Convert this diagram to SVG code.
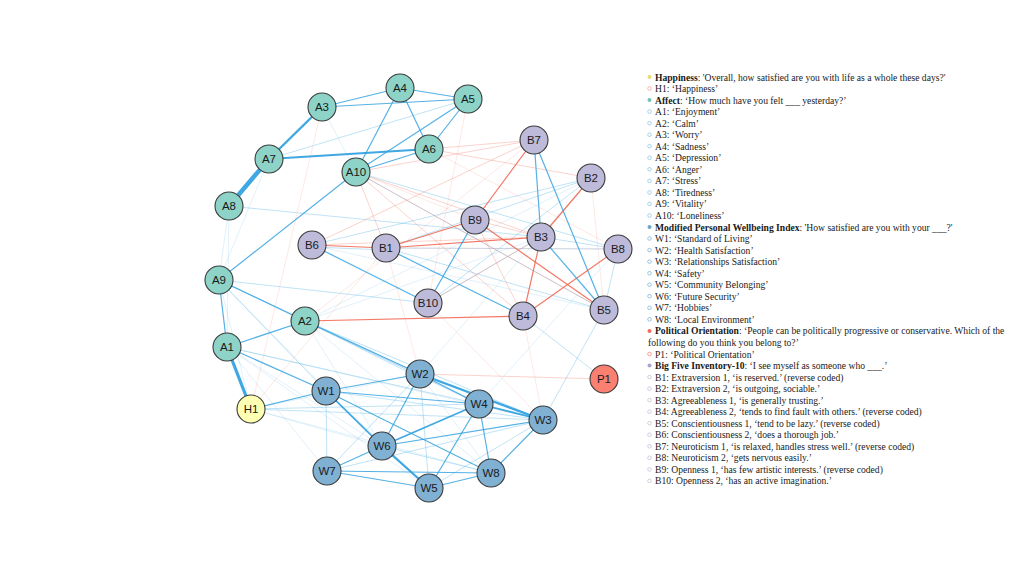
<svg xmlns="http://www.w3.org/2000/svg" width="1024" height="576" viewBox="0 0 1024 576">
<style>
.bg{fill:#ffffff}
line{stroke-linecap:round}
.ps{stroke:#2a9ddf;stroke-opacity:0.9}
.pm{stroke:#2a9ddf;stroke-width:1.2;stroke-opacity:0.8}
.pl{stroke:#4aaee6;stroke-width:1;stroke-opacity:0.35}
.pf{stroke:#6bbbe8;stroke-width:1;stroke-opacity:0.2}
.nm{stroke:#f2604a;stroke-width:1.2;stroke-opacity:0.85}
.nl{stroke:#f4826f;stroke-width:1;stroke-opacity:0.35}
.nf{stroke:#f7a393;stroke-width:1;stroke-opacity:0.25}
.node circle{stroke:#3a3a3a;stroke-width:1.1}
.a circle{fill:#8dd3c7}
.b circle{fill:#bebada}
.w circle{fill:#80b1d3}
.h circle{fill:#ffffb3}
.p circle{fill:#fb8072}
.node text{font-family:"Liberation Sans",Arial,sans-serif;font-size:11.5px;fill:#1a1a1a;text-anchor:middle;dominant-baseline:central}
.lg text{font-family:"Liberation Serif","Times New Roman",serif;font-size:9.6px;fill:#1a1a1a}
.lg .cat{font-weight:bold}
.hb{fill:none;stroke-width:0.8}
</style>
<rect class="bg" x="0" y="0" width="1024" height="576"/>
<g id="connectors">
<line class="pf" x1="269" y1="159" x2="219" y2="280"/>
<line class="pf" x1="229" y1="206" x2="219" y2="280"/>
<line class="pf" x1="229" y1="206" x2="227" y2="347"/>
<line class="pl" x1="229" y1="206" x2="541" y2="237"/>
<line class="pl" x1="269" y1="159" x2="468" y2="99"/>
<line class="pf" x1="322" y1="107" x2="356" y2="172"/>
<line class="pl" x1="219" y1="280" x2="428" y2="303"/>
<line class="pl" x1="219" y1="280" x2="326" y2="391"/>
<line class="pl" x1="219" y1="280" x2="420" y2="374"/>
<line class="pf" x1="219" y1="280" x2="251" y2="409"/>
<line class="pf" x1="219" y1="280" x2="382" y2="446"/>
<line class="pf" x1="219" y1="280" x2="479" y2="404"/>
<line class="pl" x1="227" y1="347" x2="479" y2="404"/>
<line class="pf" x1="227" y1="347" x2="543" y2="420"/>
<line class="pf" x1="227" y1="347" x2="382" y2="446"/>
<line class="pf" x1="227" y1="347" x2="429" y2="488"/>
<line class="pf" x1="227" y1="347" x2="327" y2="471"/>
<line class="pl" x1="305" y1="321" x2="479" y2="404"/>
<line class="pl" x1="305" y1="321" x2="543" y2="420"/>
<line class="pf" x1="305" y1="321" x2="382" y2="446"/>
<line class="pf" x1="305" y1="321" x2="491" y2="473"/>
<line class="pf" x1="305" y1="321" x2="541" y2="237"/>
<line class="pl" x1="251" y1="409" x2="479" y2="404"/>
<line class="pl" x1="251" y1="409" x2="543" y2="420"/>
<line class="pf" x1="251" y1="409" x2="382" y2="446"/>
<line class="pf" x1="251" y1="409" x2="491" y2="473"/>
<line class="pf" x1="251" y1="409" x2="420" y2="374"/>
<line class="pl" x1="326" y1="391" x2="543" y2="420"/>
<line class="pl" x1="326" y1="391" x2="327" y2="471"/>
<line class="pl" x1="326" y1="391" x2="429" y2="488"/>
<line class="pl" x1="420" y1="374" x2="429" y2="488"/>
<line class="pl" x1="420" y1="374" x2="327" y2="471"/>
<line class="pf" x1="420" y1="374" x2="491" y2="473"/>
<line class="pl" x1="543" y1="420" x2="327" y2="471"/>
<line class="pl" x1="543" y1="420" x2="429" y2="488"/>
<line class="pl" x1="382" y1="446" x2="491" y2="473"/>
<line class="pl" x1="543" y1="420" x2="604" y2="310"/>
<line class="pl" x1="604" y1="379" x2="523" y2="316"/>
<line class="pl" x1="591" y1="178" x2="428" y2="303"/>
<line class="pl" x1="591" y1="178" x2="386" y2="248"/>
<line class="pl" x1="591" y1="178" x2="312" y2="245"/>
<line class="pl" x1="618" y1="249" x2="386" y2="248"/>
<line class="pl" x1="618" y1="249" x2="541" y2="237"/>
<line class="pl" x1="618" y1="249" x2="604" y2="310"/>
<line class="pl" x1="428" y1="303" x2="541" y2="237"/>
<line class="pl" x1="356" y1="172" x2="618" y2="249"/>
<line class="pl" x1="356" y1="172" x2="604" y2="310"/>
<line class="pf" x1="420" y1="374" x2="591" y2="178"/>
<line class="pf" x1="479" y1="404" x2="618" y2="249"/>
<line class="pf" x1="312" y1="245" x2="604" y2="310"/>
<line class="pf" x1="305" y1="321" x2="591" y2="178"/>
<line class="pl" x1="386" y1="248" x2="604" y2="310"/>
<line class="nl" x1="534" y1="140" x2="312" y2="245"/>
<line class="nl" x1="429" y1="149" x2="534" y2="140"/>
<line class="nl" x1="429" y1="149" x2="591" y2="178"/>
<line class="nl" x1="356" y1="172" x2="534" y2="140"/>
<line class="nl" x1="356" y1="172" x2="541" y2="237"/>
<line class="nl" x1="356" y1="172" x2="604" y2="310"/>
<line class="nl" x1="356" y1="172" x2="386" y2="248"/>
<line class="nl" x1="356" y1="172" x2="523" y2="316"/>
<line class="nf" x1="356" y1="172" x2="475" y2="220"/>
<line class="nf" x1="429" y1="149" x2="618" y2="249"/>
<line class="nf" x1="468" y1="99" x2="428" y2="303"/>
<line class="nl" x1="420" y1="374" x2="604" y2="379"/>
<line class="nf" x1="322" y1="107" x2="251" y2="409"/>
<line class="nf" x1="251" y1="409" x2="386" y2="248"/>
<line class="nf" x1="543" y1="420" x2="523" y2="316"/>
<line class="nf" x1="420" y1="374" x2="386" y2="248"/>
<line class="nl" x1="475" y1="220" x2="523" y2="316"/>
<line class="nf" x1="386" y1="248" x2="618" y2="249"/>
<line class="nl" x1="312" y1="245" x2="541" y2="237"/>
<line class="nf" x1="591" y1="178" x2="604" y2="310"/>
<line class="nf" x1="428" y1="303" x2="543" y2="420"/>
<line class="nf" x1="534" y1="140" x2="305" y2="321"/>
<line class="nm" x1="305" y1="321" x2="523" y2="316"/>
<line class="nm" x1="541" y1="237" x2="523" y2="316"/>
<line class="nm" x1="541" y1="237" x2="591" y2="178"/>
<line class="nm" x1="475" y1="220" x2="386" y2="248"/>
<line class="nm" x1="475" y1="220" x2="604" y2="310"/>
<line class="nm" x1="618" y1="249" x2="523" y2="316"/>
<line class="nm" x1="541" y1="237" x2="386" y2="248"/>
<line class="nm" x1="534" y1="140" x2="475" y2="220"/>
<line class="nm" x1="312" y1="245" x2="386" y2="248"/>
<line class="nl" x1="428" y1="303" x2="541" y2="237"/>
<line class="nl" x1="475" y1="220" x2="541" y2="237"/>
<line class="pm" x1="322" y1="107" x2="400" y2="88"/>
<line class="pm" x1="322" y1="107" x2="468" y2="99"/>
<line class="pm" x1="400" y1="88" x2="468" y2="99"/>
<line class="pm" x1="400" y1="88" x2="429" y2="149"/>
<line class="pm" x1="400" y1="88" x2="356" y2="172"/>
<line class="pm" x1="468" y1="99" x2="429" y2="149"/>
<line class="pm" x1="468" y1="99" x2="356" y2="172"/>
<line class="pm" x1="429" y1="149" x2="356" y2="172"/>
<line class="pm" x1="356" y1="172" x2="219" y2="280"/>
<line class="pm" x1="227" y1="347" x2="305" y2="321"/>
<line class="pm" x1="227" y1="347" x2="326" y2="391"/>
<line class="pm" x1="219" y1="280" x2="305" y2="321"/>
<line class="pm" x1="219" y1="280" x2="227" y2="347"/>
<line class="pm" x1="251" y1="409" x2="326" y2="391"/>
<line class="pm" x1="326" y1="391" x2="420" y2="374"/>
<line class="pm" x1="326" y1="391" x2="479" y2="404"/>
<line class="pm" x1="326" y1="391" x2="491" y2="473"/>
<line class="pm" x1="420" y1="374" x2="479" y2="404"/>
<line class="pm" x1="479" y1="404" x2="429" y2="488"/>
<line class="pm" x1="479" y1="404" x2="491" y2="473"/>
<line class="pm" x1="543" y1="420" x2="491" y2="473"/>
<line class="pm" x1="382" y1="446" x2="327" y2="471"/>
<line class="pm" x1="327" y1="471" x2="429" y2="488"/>
<line class="pm" x1="327" y1="471" x2="491" y2="473"/>
<line class="pm" x1="429" y1="488" x2="491" y2="473"/>
<line class="pm" x1="420" y1="374" x2="382" y2="446"/>
<line class="pm" x1="382" y1="446" x2="543" y2="420"/>
<line class="pm" x1="305" y1="321" x2="420" y2="374"/>
<line class="pl" x1="305" y1="321" x2="420" y2="378"/>
<line class="pm" x1="534" y1="140" x2="541" y2="237"/>
<line class="pm" x1="534" y1="140" x2="604" y2="310"/>
<line class="pm" x1="541" y1="237" x2="604" y2="310"/>
<line class="pm" x1="475" y1="220" x2="428" y2="303"/>
<line class="pm" x1="312" y1="245" x2="428" y2="303"/>
<line class="pm" x1="386" y1="248" x2="523" y2="316"/>
<line class="pl" x1="312" y1="247" x2="386" y2="250"/>
<line class="ps" x1="269" y1="159" x2="229" y2="206" stroke-width="4.5"/>
<line class="ps" x1="227" y1="347" x2="251" y2="409" stroke-width="3.2"/>
<line class="ps" x1="269" y1="159" x2="322" y2="107" stroke-width="2.4"/>
<line class="ps" x1="420" y1="374" x2="543" y2="420" stroke-width="2.4"/>
<line class="ps" x1="479" y1="404" x2="543" y2="420" stroke-width="1.8"/>
<line class="ps" x1="382" y1="446" x2="429" y2="488" stroke-width="2.2"/>
<line class="ps" x1="269" y1="159" x2="429" y2="149" stroke-width="2"/>
<line class="ps" x1="326" y1="391" x2="382" y2="446" stroke-width="1.7"/>
<line class="ps" x1="479" y1="404" x2="382" y2="446" stroke-width="1.6"/>
</g>
<g id="nodes">
<g id="node-A1" class="node a"><circle cx="227" cy="347" r="14"/><text x="227" y="347">A1</text></g>
<g id="node-A2" class="node a"><circle cx="305" cy="321" r="14"/><text x="305" y="321">A2</text></g>
<g id="node-A3" class="node a"><circle cx="322" cy="107" r="14"/><text x="322" y="107">A3</text></g>
<g id="node-A4" class="node a"><circle cx="400" cy="88" r="14"/><text x="400" y="88">A4</text></g>
<g id="node-A5" class="node a"><circle cx="468" cy="99" r="14"/><text x="468" y="99">A5</text></g>
<g id="node-A6" class="node a"><circle cx="429" cy="149" r="14"/><text x="429" y="149">A6</text></g>
<g id="node-A7" class="node a"><circle cx="269" cy="159" r="14"/><text x="269" y="159">A7</text></g>
<g id="node-A8" class="node a"><circle cx="229" cy="206" r="14"/><text x="229" y="206">A8</text></g>
<g id="node-A9" class="node a"><circle cx="219" cy="280" r="14"/><text x="219" y="280">A9</text></g>
<g id="node-A10" class="node a"><circle cx="356" cy="172" r="14"/><text x="356" y="172">A10</text></g>
<g id="node-H1" class="node h"><circle cx="251" cy="409" r="14"/><text x="251" y="409">H1</text></g>
<g id="node-W1" class="node w"><circle cx="326" cy="391" r="14"/><text x="326" y="391">W1</text></g>
<g id="node-W2" class="node w"><circle cx="420" cy="374" r="14"/><text x="420" y="374">W2</text></g>
<g id="node-W3" class="node w"><circle cx="543" cy="420" r="14"/><text x="543" y="420">W3</text></g>
<g id="node-W4" class="node w"><circle cx="479" cy="404" r="14"/><text x="479" y="404">W4</text></g>
<g id="node-W5" class="node w"><circle cx="429" cy="488" r="14"/><text x="429" y="488">W5</text></g>
<g id="node-W6" class="node w"><circle cx="382" cy="446" r="14"/><text x="382" y="446">W6</text></g>
<g id="node-W7" class="node w"><circle cx="327" cy="471" r="14"/><text x="327" y="471">W7</text></g>
<g id="node-W8" class="node w"><circle cx="491" cy="473" r="14"/><text x="491" y="473">W8</text></g>
<g id="node-P1" class="node p"><circle cx="604" cy="379" r="14"/><text x="604" y="379">P1</text></g>
<g id="node-B1" class="node b"><circle cx="386" cy="248" r="14"/><text x="386" y="248">B1</text></g>
<g id="node-B2" class="node b"><circle cx="591" cy="178" r="14"/><text x="591" y="178">B2</text></g>
<g id="node-B3" class="node b"><circle cx="541" cy="237" r="14"/><text x="541" y="237">B3</text></g>
<g id="node-B4" class="node b"><circle cx="523" cy="316" r="14"/><text x="523" y="316">B4</text></g>
<g id="node-B5" class="node b"><circle cx="604" cy="310" r="14"/><text x="604" y="310">B5</text></g>
<g id="node-B6" class="node b"><circle cx="312" cy="245" r="14"/><text x="312" y="245">B6</text></g>
<g id="node-B7" class="node b"><circle cx="534" cy="140" r="14"/><text x="534" y="140">B7</text></g>
<g id="node-B8" class="node b"><circle cx="618" cy="249" r="14"/><text x="618" y="249">B8</text></g>
<g id="node-B9" class="node b"><circle cx="475" cy="220" r="14"/><text x="475" y="220">B9</text></g>
<g id="node-B10" class="node b"><circle cx="428" cy="303" r="14"/><text x="428" y="303">B10</text></g>
</g>
<g id="legend" class="lg">
<circle cx="649.5" cy="77" r="2" fill="#eadb72"/>
<text x="655" y="80.5"><tspan class="cat">Happiness</tspan>: 'Overall, how satisfied are you with life as a whole these days?'</text>
<circle class="hb" cx="649.5" cy="88.5" r="1.8" stroke="#f4a49a"/>
<text x="655" y="92">H1: ‘Happiness’</text>
<circle cx="649.5" cy="100.1" r="2" fill="#6fc4b6"/>
<text x="655" y="103.6"><tspan class="cat">Affect</tspan>: ‘How much have you felt ___ yesterday?’</text>
<g stroke="#8fc9e6">
<circle class="hb" cx="649.5" cy="111.6" r="1.8"/>
<circle class="hb" cx="649.5" cy="123.2" r="1.8"/>
<circle class="hb" cx="649.5" cy="134.7" r="1.8"/>
<circle class="hb" cx="649.5" cy="146.2" r="1.8"/>
<circle class="hb" cx="649.5" cy="157.8" r="1.8"/>
<circle class="hb" cx="649.5" cy="169.3" r="1.8"/>
<circle class="hb" cx="649.5" cy="180.9" r="1.8"/>
<circle class="hb" cx="649.5" cy="192.4" r="1.8"/>
<circle class="hb" cx="649.5" cy="203.9" r="1.8"/>
<circle class="hb" cx="649.5" cy="215.5" r="1.8"/>
</g>
<text x="655" y="115.1">A1: ‘Enjoyment’</text>
<text x="655" y="126.7">A2: ‘Calm’</text>
<text x="655" y="138.2">A3: ‘Worry’</text>
<text x="655" y="149.7">A4: ‘Sadness’</text>
<text x="655" y="161.3">A5: ‘Depression’</text>
<text x="655" y="172.8">A6: ‘Anger’</text>
<text x="655" y="184.4">A7: ‘Stress’</text>
<text x="655" y="195.9">A8: ‘Tiredness’</text>
<text x="655" y="207.4">A9: ‘Vitality’</text>
<text x="655" y="219">A10: ‘Loneliness’</text>
<circle cx="649.5" cy="227" r="2" fill="#6fa6cc"/>
<text x="655" y="230.5"><tspan class="cat">Modified Personal Wellbeing Index</tspan>: 'How satisfied are you with your ___?'</text>
<g stroke="#7fb6dc">
<circle class="hb" cx="649.5" cy="238.5" r="1.8"/>
<circle class="hb" cx="649.5" cy="250.1" r="1.8"/>
<circle class="hb" cx="649.5" cy="261.6" r="1.8"/>
<circle class="hb" cx="649.5" cy="273.2" r="1.8"/>
<circle class="hb" cx="649.5" cy="284.7" r="1.8"/>
<circle class="hb" cx="649.5" cy="296.2" r="1.8"/>
<circle class="hb" cx="649.5" cy="307.8" r="1.8"/>
<circle class="hb" cx="649.5" cy="319.3" r="1.8"/>
</g>
<text x="655" y="242">W1: ‘Standard of Living’</text>
<text x="655" y="253.6">W2: ‘Health Satisfaction’</text>
<text x="655" y="265.1">W3: ‘Relationships Satisfaction’</text>
<text x="655" y="276.7">W4: ‘Safety’</text>
<text x="655" y="288.2">W5: ‘Community Belonging’</text>
<text x="655" y="299.7">W6: ‘Future Security’</text>
<text x="655" y="311.3">W7: ‘Hobbies’</text>
<text x="655" y="322.8">W8: ‘Local Environment’</text>
<circle cx="649.5" cy="330.9" r="2" fill="#f26b5c"/>
<text x="655" y="334.4"><tspan class="cat">Political Orientation</tspan>: ‘People can be politically progressive or conservative. Which of the</text>
<text x="648" y="345.9">following do you think you belong to?’</text>
<circle class="hb" cx="649.5" cy="354" r="1.8" stroke="#f48a7c"/>
<text x="655" y="357.5">P1: ‘Political Orientation’</text>
<circle cx="649.5" cy="365.5" r="2" fill="#a9a5d0"/>
<text x="655" y="369"><tspan class="cat">Big Five Inventory-10</tspan>: ‘I see myself as someone who ___.’</text>
<g stroke="#c4c2d8">
<circle class="hb" cx="649.5" cy="377" r="1.8"/>
<circle class="hb" cx="649.5" cy="388.6" r="1.8"/>
<circle class="hb" cx="649.5" cy="400.1" r="1.8"/>
<circle class="hb" cx="649.5" cy="411.7" r="1.8"/>
<circle class="hb" cx="649.5" cy="423.2" r="1.8"/>
<circle class="hb" cx="649.5" cy="434.7" r="1.8"/>
<circle class="hb" cx="649.5" cy="446.3" r="1.8"/>
<circle class="hb" cx="649.5" cy="457.8" r="1.8"/>
<circle class="hb" cx="649.5" cy="469.4" r="1.8"/>
<circle class="hb" cx="649.5" cy="480.9" r="1.8"/>
</g>
<text x="655" y="380.5">B1: Extraversion 1, ‘is reserved.’ (reverse coded)</text>
<text x="655" y="392.1">B2: Extraversion 2, ‘is outgoing, sociable.’</text>
<text x="655" y="403.6">B3: Agreeableness 1, ‘is generally trusting.’</text>
<text x="655" y="415.2">B4: Agreeableness 2, ‘tends to find fault with others.’ (reverse coded)</text>
<text x="655" y="426.7">B5: Conscientiousness 1, ‘tend to be lazy.’ (reverse coded)</text>
<text x="655" y="438.2">B6: Conscientiousness 2, ‘does a thorough job.’</text>
<text x="655" y="449.8">B7: Neuroticism 1, ‘is relaxed, handles stress well.’ (reverse coded)</text>
<text x="655" y="461.3">B8: Neuroticism 2, ‘gets nervous easily.’</text>
<text x="655" y="472.9">B9: Openness 1, ‘has few artistic interests.’ (reverse coded)</text>
<text x="655" y="484.4">B10: Openness 2, ‘has an active imagination.’</text>
</g>
</svg>
